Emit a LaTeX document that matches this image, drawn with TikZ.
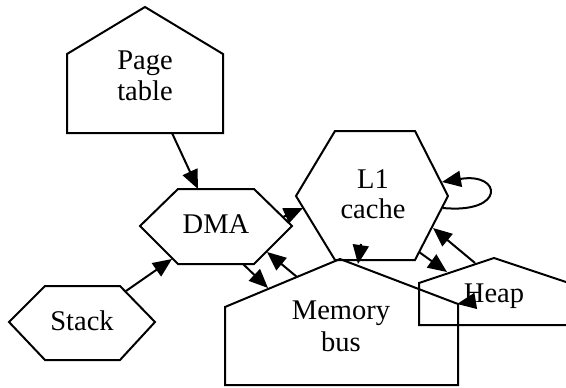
\documentclass[tikz,border=0pt]{standalone}
\usepackage{fontspec}
\setmainfont{Liberation Serif}
\usetikzlibrary{arrows.meta}
\tikzset{
  shp/.style={draw=black, line width=2pt, line join=miter},
  lbl/.style={anchor=base, inner sep=0pt, font=\fontsize{28.5}{31}\selectfont},
  conn/.style={draw=black, line width=2pt, -{Triangle[length=19pt,width=16pt]}}
}
\begin{document}
\begin{tikzpicture}[x=1pt,y=-1pt]
\useasboundingbox (0,0) rectangle (566,388);
\fill[white] (0,0) rectangle (566,388);
\begin{scope}
\clip (0,0) rectangle (566,388);
% shapes
\draw[shp] (67,133) -- (67,54) -- (145,7) -- (223,54) -- (223,133) -- cycle;
\draw[shp] (140,226) -- (178,189) -- (254,189) -- (292,226) -- (254,264) -- (178,264) -- cycle;
\draw[shp] (9,322) -- (45,286) -- (120,286) -- (155,322) -- (120,360) -- (45,360) -- cycle;
\draw[shp] (296,196) -- (335,131) -- (415,131) -- (448,196) -- (415,260) -- (335,260) -- cycle;
\draw[shp] (225,385) -- (225,307) -- (340,259) -- (458,304) -- (458,385) -- cycle;
\draw[shp] (419,325) -- (419,283) -- (494,258) -- (569,283) -- (569,325) -- cycle;
% labels
\node[lbl] (pageA) at (145,70) {Page};
\node[lbl] (pageB) at (145,100) {table};
\node[lbl] (dma) at (216,233) {DMA};
\node[lbl] (stack) at (82,330) {Stack};
\node[lbl] (lA) at (373,188) {L1};
\node[lbl] (lB) at (373,218) {cache};
\node[lbl] (mA) at (341,319) {Memory};
\node[lbl] (mB) at (341,351) {bus};
\node[lbl] (heap) at (494,302) {Heap};
% connector end points
\coordinate (p1) at (172,133); \coordinate (p2) at (198,189);
\coordinate (s1) at (126,291); \coordinate (s2) at (172,259);
\coordinate (d1) at (283,217); \coordinate (d2) at (303,208);
\coordinate (d3) at (243,264); \coordinate (d4) at (268,288);
\coordinate (m1) at (297,277); \coordinate (m2) at (267,252);
\coordinate (c1) at (361,244); \coordinate (c2) at (358,264);
\coordinate (c3) at (419,252); \coordinate (c4) at (447,272);
\coordinate (h1) at (475,263); \coordinate (h2) at (433,228);
\coordinate (l1) at (443,208); \coordinate (l2) at (442,182);
\coordinate (h3) at (475,301); \coordinate (h4) at (457,304);
% connectors
\draw[conn] (p1) -- (p2);
\draw[conn] (s1) -- (s2);
\draw[conn] (d1) -- (d2);
\draw[conn] (d3) -- (d4);
\draw[conn] (m1) -- (m2);
\draw[conn] (c1) -- (c2);
\draw[conn] (c3) -- (c4);
\draw[conn] (h1) -- (h2);
\draw[conn] (l1) .. controls (506,214) and (502,172) .. (l2);
\draw[conn] (h3) -- (h4);
\end{scope}
\end{tikzpicture}
\end{document}
